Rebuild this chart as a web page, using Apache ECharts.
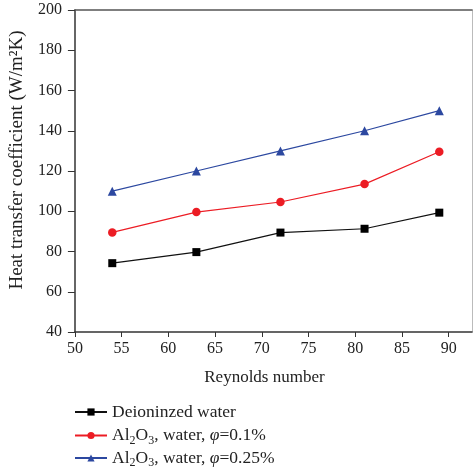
<!DOCTYPE html>
<html><head><meta charset="utf-8">
<script src="https://cdn.jsdelivr.net/npm/echarts@6/dist/echarts.min.js"></script>
<style>html,body{margin:0;padding:0;background:#fff}#c{width:474px;height:471px}</style>
</head><body><div id="c"></div>
<script>
const reynolds = [54, 63, 72, 81, 89];
const deionized = [74.2, 79.7, 89.4, 91.3, 99.3];
const al01 = [89.5, 99.6, 104.6, 113.5, 129.6];
const al025 = [110, 120, 130, 140, 150];
const xTicks = [50, 55, 60, 65, 70, 75, 80, 85, 90];
const seriesNames = ['Deioninzed water', 'Al2O3, water, φ=0.1%', 'Al2O3, water, φ=0.25%'];

const font = 'Liberation Serif';
const txt = '#222';
const chart = echarts.init(document.getElementById('c'));
const pair = a => reynolds.map((x, i) => [x, a[i]]);
const lgTop = [398, 419.5, 442];
const legends = seriesNames.map((n, k) => ({
  orient: 'vertical', left: 69, top: lgTop[k], itemWidth: 32, itemHeight: 9,
  data: [n],
  formatter: nm => {
    if (nm === seriesNames[0]) return '{t|' + nm + '}';
    const rest = nm.replace('Al2O3, water, φ', '');
    return '{t|Al}{s|2}{t|O}{s|3}{t|, water, }{i|φ}{t|' + rest + '}';
  },
  textStyle: {
    fontFamily: font, color: txt, fontSize: 17.5,
    rich: {
      t: {fontFamily: font, fontSize: 17.5, color: txt, lineHeight: 20},
      s: {fontFamily: font, fontSize: 12, color: txt, lineHeight: 20, padding: [10, 0, 0, 0]},
      i: {fontFamily: font, fontSize: 17.5, color: txt, fontStyle: 'italic', lineHeight: 20}
    }
  }
}));
chart.setOption({
  animation: false,
  grid: {left: 72, right: 2, top: 10, bottom: 139, containLabel: false},
  legend: legends,
  xAxis: [{
    type: 'value', min: 50, max: 92.5, position: 'bottom',
    name: 'Reynolds number', nameLocation: 'middle', nameGap: 37,
    nameTextStyle: {fontFamily: font, fontSize: 17, color: txt, padding: [0, 18, 0, 0]},
    axisLine: {lineStyle: {color: '#333', width: 1.5}},
    axisTick: {show: true, inside: false, length: 5, customValues: xTicks, lineStyle: {color: '#333'}},
    axisLabel: {customValues: xTicks, fontFamily: font, fontSize: 16, color: txt, margin: 9},
    splitLine: {show: false}
  }, {
    type: 'value', min: 50, max: 92.5, position: 'top',
    axisLine: {show: true, lineStyle: {color: '#555', width: 1.5}},
    axisTick: {show: false}, axisLabel: {show: false}, splitLine: {show: false}
  }],
  yAxis: [{
    type: 'value', min: 40, max: 200, interval: 20,
    name: 'Heat transfer coefficient (W/m²K)', nameLocation: 'middle', nameGap: 46,
    nameTextStyle: {fontFamily: font, fontSize: 19, color: txt, padding: [0, 0, 0, 22]},
    axisLine: {show: true, lineStyle: {color: '#333', width: 1.5}},
    axisTick: {show: true, inside: false, length: 7, lineStyle: {color: '#333'}},
    axisLabel: {fontFamily: font, fontSize: 16, color: txt, margin: 13},
    splitLine: {show: false}
  }, {
    type: 'value', min: 40, max: 200, position: 'right',
    axisLine: {show: true, lineStyle: {color: '#bbb', width: 1}},
    axisTick: {show: false}, axisLabel: {show: false}, splitLine: {show: false}
  }],
  series: [
    {name: seriesNames[0], type: 'line', data: pair(deionized), symbol: 'rect', symbolSize: 8,
     itemStyle: {color: '#000'}, lineStyle: {color: '#111', width: 1.2}},
    {name: seriesNames[1], type: 'line', data: pair(al01), symbol: 'circle', symbolSize: 8.5,
     itemStyle: {color: '#ec1c24'}, lineStyle: {color: '#ec1c24', width: 1.2}},
    {name: seriesNames[2], type: 'line', data: pair(al025), symbol: 'triangle', symbolSize: 9,
     itemStyle: {color: '#2c48a0'}, lineStyle: {color: '#2c48a0', width: 1.2}}
  ]
});
</script></body></html>
